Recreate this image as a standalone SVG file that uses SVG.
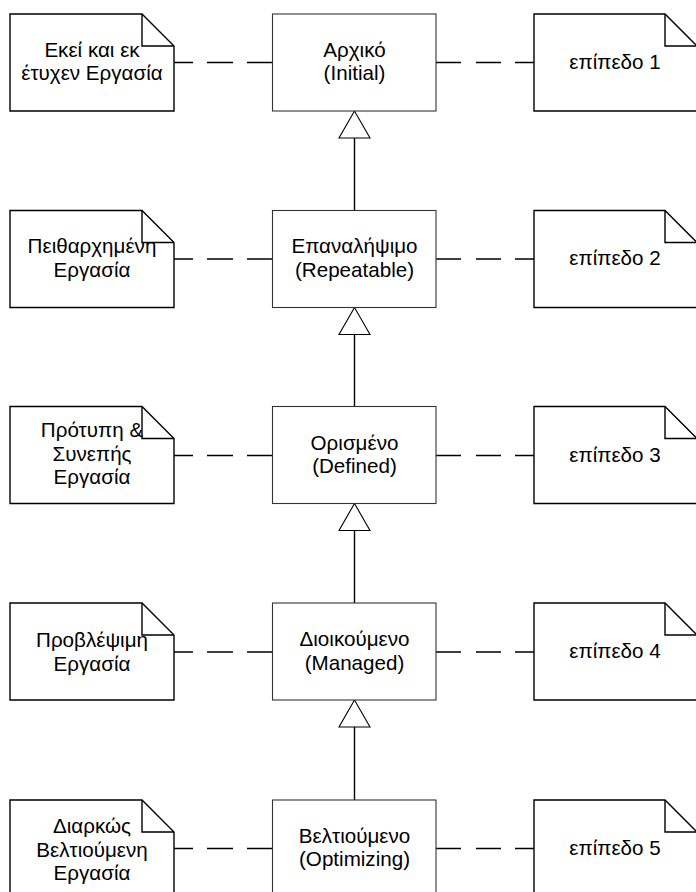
<svg xmlns="http://www.w3.org/2000/svg" width="696" height="892" viewBox="0 0 696 892">
<style>
.note{fill:#fff;stroke:#000;stroke-width:1.4}
.fold{fill:none;stroke:#000;stroke-width:1.4}
.box{fill:#fff;stroke:#333;stroke-width:1.1}
.t{font-family:"Liberation Sans",Arial,sans-serif;font-size:20.6px;fill:#000;text-anchor:middle}
.dl{stroke:#000;stroke-width:1.4;fill:none;stroke-dasharray:19 14 26 14 26}
.dr{stroke:#000;stroke-width:1.4;fill:none;stroke-dasharray:25 15 25 14 19}
.v{stroke:#000;stroke-width:1.4;fill:none}
.tri{fill:#fff;stroke:#000;stroke-width:1.1}
</style>
<g id="connectors">
<line class="dl" x1="174" y1="62.5" x2="272.5" y2="62.5"/>
<line class="dr" x1="436" y1="62.5" x2="534" y2="62.5"/>
<line class="dl" x1="174" y1="259" x2="272.5" y2="259"/>
<line class="dr" x1="436" y1="259" x2="534" y2="259"/>
<line class="dl" x1="174" y1="455.5" x2="272.5" y2="455.5"/>
<line class="dr" x1="436" y1="455.5" x2="534" y2="455.5"/>
<line class="dl" x1="174" y1="652" x2="272.5" y2="652"/>
<line class="dr" x1="436" y1="652" x2="534" y2="652"/>
<line class="dl" x1="174" y1="848.5" x2="272.5" y2="848.5"/>
<line class="dr" x1="436" y1="848.5" x2="534" y2="848.5"/>
<line class="v" x1="354.5" y1="138" x2="354.5" y2="210.5"/>
<polygon class="tri" points="354.5,111 339,138 370,138"/>
<line class="v" x1="354.5" y1="334.5" x2="354.5" y2="406.5"/>
<polygon class="tri" points="354.5,307.5 339,334.5 370,334.5"/>
<line class="v" x1="354.5" y1="530.5" x2="354.5" y2="603"/>
<polygon class="tri" points="354.5,503.5 339,530.5 370,530.5"/>
<line class="v" x1="354.5" y1="727" x2="354.5" y2="800"/>
<polygon class="tri" points="354.5,700 339,727 370,727"/>
</g>
<g id="note-l1">
<polygon class="note" points="10,14 142,14 174,46 174,111 10,111"/>
<polyline class="fold" points="142,14 142,46 174,46"/>
<text class="t" x="92" y="56.5">Εκεί και εκ</text>
<text class="t" x="92" y="80">έτυχεν Εργασία</text>
</g>
<g id="box-1">
<rect class="box" x="272.5" y="14" width="163.5" height="97"/>
<text class="t" x="354.5" y="56.5">Αρχικό</text>
<text class="t" x="354.5" y="80">(Initial)</text>
</g>
<g id="note-r1">
<polygon class="note" points="534,14 665,14 697,46 697,111 534,111"/>
<polyline class="fold" points="665,14 665,46 697,46"/>
<text class="t" x="615" y="68.5">επίπεδο 1</text>
</g>
<g id="note-l2">
<polygon class="note" points="10,210.5 142,210.5 174,242.5 174,307.5 10,307.5"/>
<polyline class="fold" points="142,210.5 142,242.5 174,242.5"/>
<text class="t" x="92" y="253">Πειθαρχημένη</text>
<text class="t" x="92" y="276.5">Εργασία</text>
</g>
<g id="box-2">
<rect class="box" x="272.5" y="210.5" width="163.5" height="97"/>
<text class="t" x="354.5" y="253">Επαναλήψιμο</text>
<text class="t" x="354.5" y="276.5">(Repeatable)</text>
</g>
<g id="note-r2">
<polygon class="note" points="534,210.5 665,210.5 697,242.5 697,307.5 534,307.5"/>
<polyline class="fold" points="665,210.5 665,242.5 697,242.5"/>
<text class="t" x="615" y="265">επίπεδο 2</text>
</g>
<g id="note-l3">
<polygon class="note" points="10,406.5 142,406.5 174,438.5 174,503.5 10,503.5"/>
<polyline class="fold" points="142,406.5 142,438.5 174,438.5"/>
<text class="t" x="92" y="437">Πρότυπη &amp;</text>
<text class="t" x="92" y="461">Συνεπής</text>
<text class="t" x="92" y="484">Εργασία</text>
</g>
<g id="box-3">
<rect class="box" x="272.5" y="406.5" width="163.5" height="97"/>
<text class="t" x="354.5" y="449.5">Ορισμένο</text>
<text class="t" x="354.5" y="473">(Defined)</text>
</g>
<g id="note-r3">
<polygon class="note" points="534,406.5 665,406.5 697,438.5 697,503.5 534,503.5"/>
<polyline class="fold" points="665,406.5 665,438.5 697,438.5"/>
<text class="t" x="615" y="461.5">επίπεδο 3</text>
</g>
<g id="note-l4">
<polygon class="note" points="10,603 142,603 174,635 174,700 10,700"/>
<polyline class="fold" points="142,603 142,635 174,635"/>
<text class="t" x="92" y="647">Προβλέψιμη</text>
<text class="t" x="92" y="671">Εργασία</text>
</g>
<g id="box-4">
<rect class="box" x="272.5" y="603" width="163.5" height="97"/>
<text class="t" x="354.5" y="646">Διοικούμενο</text>
<text class="t" x="354.5" y="669.5">(Managed)</text>
</g>
<g id="note-r4">
<polygon class="note" points="534,603 665,603 697,635 697,700 534,700"/>
<polyline class="fold" points="665,603 665,635 697,635"/>
<text class="t" x="615" y="658">επίπεδο 4</text>
</g>
<g id="note-l5">
<polygon class="note" points="10,800 142,800 174,832 174,897 10,897"/>
<polyline class="fold" points="142,800 142,832 174,832"/>
<text class="t" x="92" y="833">Διαρκώς</text>
<text class="t" x="92" y="857">Βελτιούμενη</text>
<text class="t" x="92" y="880">Εργασία</text>
</g>
<g id="box-5">
<rect class="box" x="272.5" y="800" width="163.5" height="97"/>
<text class="t" x="354.5" y="842.5">Βελτιούμενο</text>
<text class="t" x="354.5" y="866">(Optimizing)</text>
</g>
<g id="note-r5">
<polygon class="note" points="534,800 665,800 697,832 697,897 534,897"/>
<polyline class="fold" points="665,800 665,832 697,832"/>
<text class="t" x="615" y="854.5">επίπεδο 5</text>
</g>
</svg>
